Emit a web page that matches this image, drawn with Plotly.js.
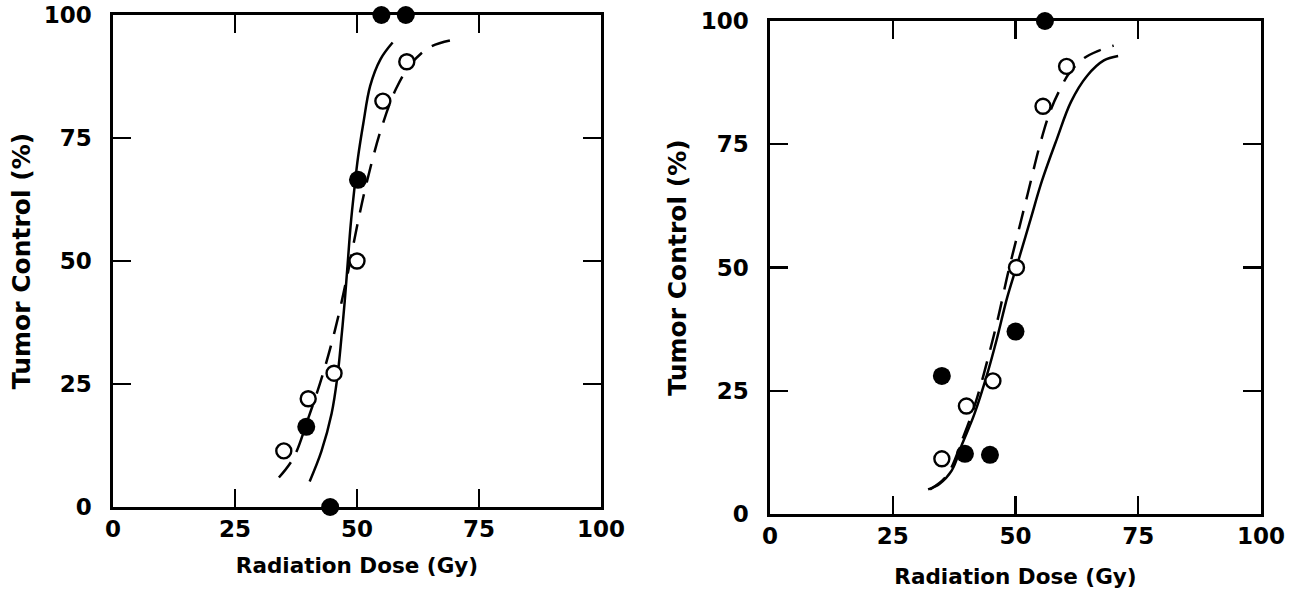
<!DOCTYPE html>
<html>
<head>
<meta charset="utf-8">
<script src="https://cdn.plot.ly/plotly-3.0.1.min.js"></script>
<style>html,body{margin:0;padding:0;background:#fff;}#chart{width:1296px;height:589px;}</style>
</head>
<body>
<div id="chart"></div>
<script>
// ---- Left panel data ----
const leftSolidX  = [40.3, 42.7, 44.8, 46.0, 46.8, 47.5, 48.1, 48.7, 49.5, 50.2, 51.3, 52.7, 54.8, 57.3];
const leftSolidY  = [5.2, 11.3, 19.0, 26.6, 34.3, 42.0, 49.6, 57.3, 65.0, 71.0, 78.0, 85.6, 91.0, 94.4];
const leftDashX   = [34, 37, 40, 43, 45.5, 48, 50, 52, 55, 58, 61, 65, 70];
const leftDashY   = [6, 10, 18, 27, 36, 47, 57, 66, 77, 85, 90, 93.5, 95];
const leftOpenX   = [35, 40, 45.3, 50, 55.3, 60.2];
const leftOpenY   = [11.4, 22, 27.2, 50, 82.5, 90.5];
const leftFillX   = [55, 60, 50.2, 39.6, 44.5];
const leftFillY   = [100, 100, 66.5, 16.3, 0];

// ---- Right panel data ----
const rightSolidX = [32.2, 34.5, 37.0, 39.1, 41.6, 44.1, 46.2, 48.3, 50.4, 52.9, 55.4, 58.4, 61.3, 64.6, 68.0, 70.9];
const rightSolidY = [5.0, 6.1, 8.8, 14.1, 20.2, 27.9, 35.5, 43.9, 50.8, 59.2, 67.6, 76.0, 83.6, 88.9, 92.0, 92.9];
const rightDashX  = [32.6, 36, 39.5, 42, 44.5, 46.5, 48.5, 50.5, 52.5, 55, 57, 59, 61, 64, 67, 70];
const rightDashY  = [5, 7.8, 16, 23, 32, 40, 49, 57, 65, 75, 81.5, 86, 89.5, 92.5, 94, 95];
const rightOpenX  = [35, 40, 45.4, 50.2, 55.6, 60.4];
const rightOpenY  = [11.2, 21.9, 27, 50, 82.7, 90.8];
const rightFillX  = [56, 50, 35, 39.7, 44.8];
const rightFillY  = [100, 37, 28, 12.2, 12];

const tickVals = [0, 25, 50, 75, 100];
const tickText = ['0', '25', '50', '75', '100'];
const xTitle = 'Radiation Dose (Gy)';
const yTitle = 'Tumor Control (%)';

function panel(sx, sy, dx, dy, ox, oy, fx, fy, xa, ya) {
  return [
    {x: sx, y: sy, xaxis: xa, yaxis: ya, mode: 'lines', type: 'scatter',
     line: {color: '#000', width: 2.5, shape: 'spline'}, hoverinfo: 'skip'},
    {x: dx, y: dy, xaxis: xa, yaxis: ya, mode: 'lines', type: 'scatter',
     line: {color: '#000', width: 2.5, shape: 'spline', dash: '19px,12px'}, hoverinfo: 'skip'},
    {x: ox, y: oy, xaxis: xa, yaxis: ya, mode: 'markers', type: 'scatter', cliponaxis: false,
     marker: {symbol: 'circle', size: 15, color: '#fff', line: {color: '#000', width: 2.4}}},
    {x: fx, y: fy, xaxis: xa, yaxis: ya, mode: 'markers', type: 'scatter', cliponaxis: false,
     marker: {symbol: 'circle', size: 18, color: '#000', line: {color: '#000', width: 0}}}
  ];
}

const data = [].concat(
  panel(leftSolidX, leftSolidY, leftDashX, leftDashY, leftOpenX, leftOpenY, leftFillX, leftFillY, 'x', 'y'),
  panel(rightSolidX, rightSolidY, rightDashX, rightDashY, rightOpenX, rightOpenY, rightFillX, rightFillY, 'x2', 'y2')
);

const W = 1296, H = 589;
const FAM = 'DejaVu Sans, Verdana, sans-serif';
const tickFont = {family: FAM, size: 23, color: '#000', weight: 'bold'};
const xTitleFont = {family: FAM, size: 21.5, color: '#000', weight: 'bold'};
const yTitleFont = {family: FAM, size: 25, color: '#000', weight: 'bold'};

function xax(domain, anchor, standoff) {
  return {domain: domain, anchor: anchor, range: [0, 100], tickmode: 'array', tickvals: tickVals, ticktext: tickText,
    ticks: 'inside', ticklen: 18, tickwidth: 2.4, tickcolor: '#000', showline: true, linewidth: 2.6, linecolor: '#000',
    mirror: 'ticks', showgrid: false, zeroline: false, tickfont: tickFont, ticklabelstandoff: 0, automargin: false,
    title: {text: xTitle, font: xTitleFont, standoff: standoff}};
}
function yax(domain, anchor, standoff) {
  return {domain: domain, anchor: anchor, range: [0, 100], tickmode: 'array', tickvals: tickVals, ticktext: tickText,
    ticks: 'inside', ticklen: 18, tickwidth: 2.4, tickcolor: '#000', showline: true, linewidth: 2.6, linecolor: '#000',
    mirror: 'ticks', showgrid: false, zeroline: false, tickfont: tickFont, ticklabelstandoff: 14, automargin: false,
    title: {text: yTitle, font: yTitleFont, standoff: standoff}};
}

const layout = {
  width: W, height: H, showlegend: false,
  paper_bgcolor: '#fff', plot_bgcolor: '#fff',
  margin: {l: 0, r: 0, t: 0, b: 0},
  xaxis: xax([113 / W, 601 / W], 'y', 17),
  yaxis: yax([1 - 507 / H, 1 - 15 / H], 'x', 6),
  xaxis2: xax([770 / W, 1261 / W], 'y2', 22),
  yaxis2: yax([1 - 514 / H, 1 - 21 / H], 'x2', 7)
};

Plotly.newPlot('chart', data, layout, {displayModeBar: false, staticPlot: true});
</script>
</body>
</html>
